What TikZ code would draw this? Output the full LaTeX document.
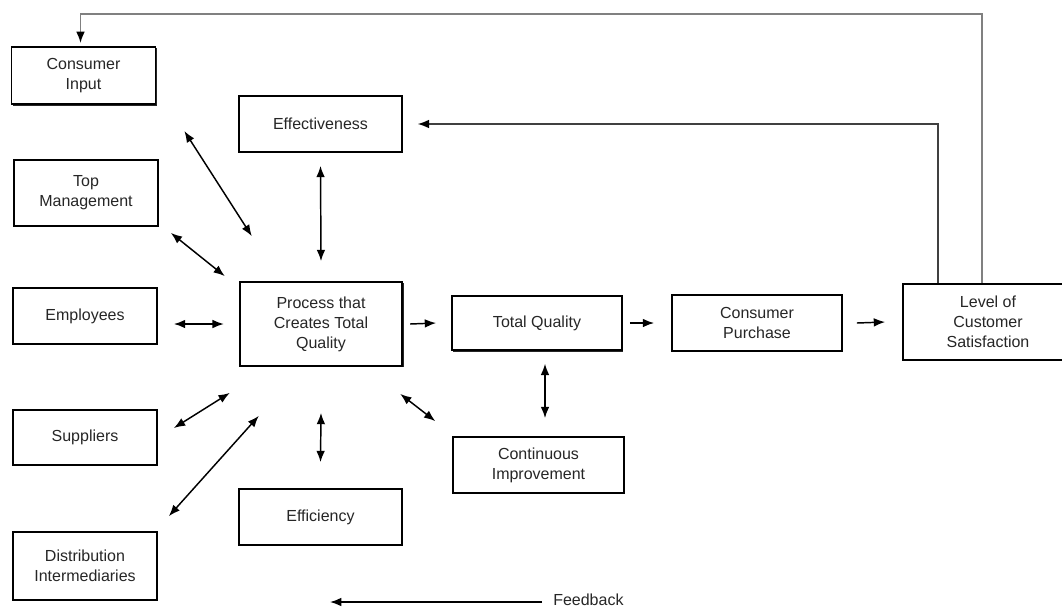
\documentclass[tikz,border=0pt]{standalone}
\usepackage{fontspec}
\setmainfont{Liberation Sans}
\usetikzlibrary{arrows.meta, positioning, shadows}

\begin{document}
\begin{tikzpicture}[
    x=0.75pt, y=-0.75pt,
    box/.style={draw, fill=white, line width=1.3pt, minimum width=108pt, minimum height=42pt,
                align=center, inner sep=2pt, text=black!85,
                font=\fontsize{12}{15}\selectfont,
                drop shadow={shadow xshift=1pt, shadow yshift=-1pt, fill=black, opacity=0.85}},
    midbox/.style={box, minimum width=122pt},
    rbox/.style={box, minimum width=127.5pt},
    lbl/.style={text=black!85, font=\fontsize{12}{15}\selectfont, inner sep=0pt},
    arrow/.style={-{Latex[length=8.5pt, width=6.5pt]}, line width=1.1pt},
    dblarrow/.style={{Latex[length=8.5pt, width=6.5pt]}-{Latex[length=8.5pt, width=6.5pt]}, line width=1.1pt},
    fbarrow/.style={-{Latex[length=8.5pt, width=6.5pt, color=black]}, line width=1.1pt, draw=black!50},
]
\useasboundingbox (0,0) rectangle (1062,608);

% Grid layout (pixels, y down)
% x cols : 85=inputs,  320=process,  537=quality,  757=purchase,  988=satisfaction
% y rows : 124=effectiveness,  323=main,  465/517=improvement/efficiency

% inputs
\node[box, minimum height=43pt]   at (83.5, 75.5) (cinput) {Consumer\\Input};
\node[box, minimum height=49.5pt] at (86,   193)  (topm)   {Top\\Management};
\node[box]                        at (85,   316)  (empl)   {Employees};
\node[box, minimum height=41pt]   at (85,   437.5) (supp)  {Suppliers};
\node[box, minimum height=51pt]   at (85,   566)  (dist)   {Distribution\\Intermediaries};

% process column
\node[midbox]                     at (320.5, 124) (effect) {Effectiveness};
\node[midbox, minimum height=63pt] at (321,  324) (proc)   {Process that\\Creates Total\\Quality};
\node[midbox]                     at (320.5, 517) (effic)  {Efficiency};

% main chain
\node[rbox, minimum height=41pt]  at (537,   323) (tq)     {Total Quality};
\node[rbox, minimum width=128pt]  at (538.5, 465) (cimp)   {Continuous\\Improvement};
\node[rbox]                       at (757,   323) (cp)     {Consumer\\Purchase};
\node[rbox, minimum height=57pt]  at (988,   322) (lvl)    {Level of\\Customer\\Satisfaction};

% inputs <-> process
\draw[dblarrow] ([shift={(28,26)}]cinput.south east) -- ([shift={(13,-45)}]proc.north west);
\draw[dblarrow] ([shift={(12,6)}]topm.south east)    -- ([shift={(-14,-5)}]proc.north west);
\draw[dblarrow] ([shift={(16,8)}]empl.east)          -- ([shift={(-15,0)}]proc.west);
\draw[dblarrow] ([shift={(16,-9.5)}]supp.east)       -- ([shift={(-9,26)}]proc.south west);
\draw[dblarrow] ([shift={(11,-15)}]dist.north east)  -- ([shift={(20,49)}]proc.south west);

% effectiveness / efficiency / improvement
\draw[dblarrow] ([shift={(0,13)}]effect.south) -- ([shift={(0,-20)}]proc.north);
\draw[dblarrow] ([shift={(0,46)}]proc.south)   -- ([shift={(0,-26)}]effic.north);
\draw[dblarrow] ([shift={(-3,27)}]proc.south east) -- ([shift={(-17,-15)}]cimp.north west);
\draw[dblarrow] ([shift={(8,12.5)}]tq.south)   -- ([shift={(6.5,-18)}]cimp.north);

% main chain arrows
\draw[arrow] ([shift={(7,0)}]proc.east) -- ([shift={(-15,0)}]tq.west);
\draw[arrow] ([shift={(7,0)}]tq.east)   -- ([shift={(-17,0)}]cp.west);
\draw[arrow] ([shift={(14,0)}]cp.east)  -- ([shift={(-17,0)}]lvl.west);

% feedback loops
\draw[fbarrow, draw=black!75] ([shift={(36,0)}]lvl.north west) |- ([shift={(15,0)}]effect.east);
\draw[fbarrow] ([shift={(80,0)}]lvl.north west) -- ++(0,-269) -| ([shift={(-3,-3)}]cinput.north);

% legend
\node[lbl, anchor=base west] at (553,605) (fb) {Feedback};
\coordinate (fbstart) at (542,602);
\coordinate (fbtip)   at (330,602);
\draw[arrow] (fbstart) -- (fbtip);
\end{tikzpicture}
\end{document}
